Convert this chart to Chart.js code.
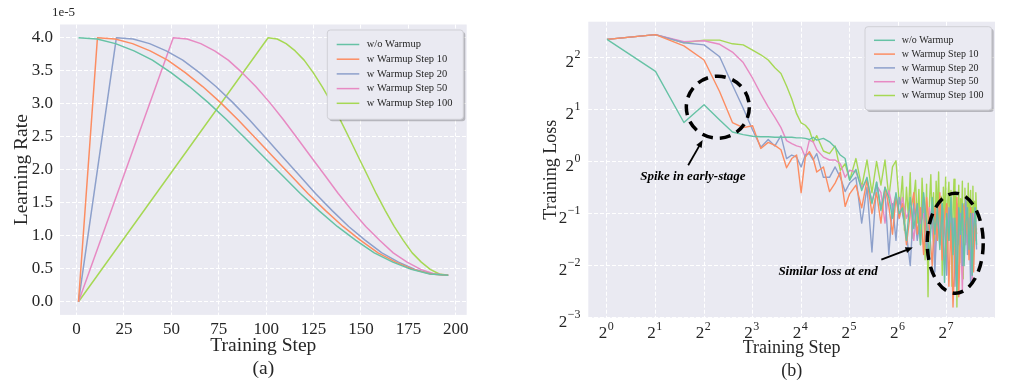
<!DOCTYPE html>
<html>
<head>
<meta charset="utf-8">
<script src="https://cdn.jsdelivr.net/npm/chart.js@4.4.1/dist/chart.umd.min.js"></script>
<style>
  body { margin: 0; background: #fff; }
  #wrap { position: relative; width: 1025px; height: 391px; }
  canvas { position: absolute; top: 0; }
  #lrChart { left: 0; }
  #lossChart { left: 512px; }
</style>
</head>
<body>
<div id="wrap">
  <canvas id="lrChart" width="512" height="391"></canvas>
  <canvas id="lossChart" width="513" height="391"></canvas>
</div>
<script>
var seriesLabels = ['w/o Warmup', 'w Warmup Step 10', 'w Warmup Step 20', 'w Warmup Step 50', 'w Warmup Step 100'];
var seriesColors = ['#66c2a5', '#fc8d62', '#8da0cb', '#e78ac3', '#a6d854'];

// (a) learning rate, in units of 1e-5
var stepsNoWarmup = [1, 10.8, 20.5, 30.3, 40, 49.8, 59.5, 69.3, 79, 88.8, 98.5, 108.3, 118, 127.8, 137.5, 147.3, 157, 166.8, 176.5, 186.3, 196];
var lrNoWarmup = [4.00, 3.98, 3.91, 3.80, 3.66, 3.47, 3.26, 3.02, 2.76, 2.48, 2.20, 1.92, 1.64, 1.38, 1.14, 0.93, 0.74, 0.60, 0.49, 0.42, 0.40];
var stepsWarm10 = [1, 11, 20.3, 29.5, 38.8, 48, 57.3, 66.5, 75.8, 85, 94.3, 103.5, 112.8, 122, 131.3, 140.5, 149.8, 159, 168.3, 177.5, 186.8, 196];
var lrWarm10 = [0, 4.00, 3.98, 3.91, 3.80, 3.66, 3.47, 3.26, 3.02, 2.76, 2.48, 2.20, 1.92, 1.64, 1.38, 1.14, 0.93, 0.74, 0.60, 0.49, 0.42, 0.40];
var stepsWarm20 = [1, 21, 29.8, 38.5, 47.3, 56, 64.8, 73.5, 82.3, 91, 99.8, 108.5, 117.3, 126, 134.8, 143.5, 152.3, 161, 169.8, 178.5, 187.3, 196];
var lrWarm20 = [0, 4.00, 3.98, 3.91, 3.80, 3.66, 3.47, 3.26, 3.02, 2.76, 2.48, 2.20, 1.92, 1.64, 1.38, 1.14, 0.93, 0.74, 0.60, 0.49, 0.42, 0.40];
var stepsWarm50 = [1, 51, 58.3, 65.5, 72.8, 80, 87.3, 94.5, 101.8, 109, 116.3, 123.5, 130.8, 138, 145.3, 152.5, 159.8, 167, 174.3, 181.5, 188.8, 196];
var lrWarm50 = [0, 4.00, 3.98, 3.91, 3.80, 3.66, 3.47, 3.26, 3.02, 2.76, 2.48, 2.20, 1.92, 1.64, 1.38, 1.14, 0.93, 0.74, 0.60, 0.49, 0.42, 0.40];
var stepsWarm100 = [1, 101, 105.8, 110.5, 115.3, 120, 124.8, 129.5, 134.3, 139, 143.8, 148.5, 153.3, 158, 162.8, 167.5, 172.3, 177, 181.8, 186.5, 191.3, 196];
var lrWarm100 = [0, 4.00, 3.98, 3.91, 3.80, 3.66, 3.47, 3.26, 3.02, 2.76, 2.48, 2.20, 1.92, 1.64, 1.38, 1.14, 0.93, 0.74, 0.60, 0.49, 0.42, 0.40];
var stepTicks = [0, 25, 50, 75, 100, 125, 150, 175, 200];
var lrTicks = [0, 0.5, 1, 1.5, 2, 2.5, 3, 3.5, 4];

// (b) training loss
var lossSteps = [1, 2, 3, 4, 5, 6, 7, 8, 9, 10, 11, 12, 13, 14, 15, 16, 17, 18, 19, 20,
  22, 24, 26, 28, 30, 32, 35, 38, 41, 44, 47, 50, 53, 56, 59, 62, 65,
  68, 72, 76, 80, 84, 88, 92, 96, 100, 104, 108, 112, 116, 120, 124, 128, 132, 136, 140,
  144, 148, 152, 156, 160, 164, 168, 172, 176, 180, 184, 188, 192, 196];
var lossNoWarmup = [5.08, 3.32, 1.68, 2.13, 1.74, 1.48, 1.43, 1.40, 1.39, 1.39, 1.38, 1.38, 1.38, 1.38, 1.37, 1.37, 1.36, 1.34, 1.38, 1.33,
  1.36, 1.30, 1.21, 1.09, 1.04, 0.78, 0.90, 0.68, 0.81, 0.57, 0.76, 0.52, 0.71, 0.62, 0.47, 0.66, 0.50,
  0.54, 0.35, 0.62, 0.41, 0.57, 0.33, 0.66, 0.44, 0.27, 0.62, 0.38, 0.54, 0.31, 0.57, 0.20, 0.50, 0.35, 0.62, 0.29,
  0.47, 0.18, 0.54, 0.38, 0.57, 0.25, 0.44, 0.54, 0.31, 0.50, 0.22, 0.41, 0.54, 0.33];
var lossWarm10 = [5.08, 5.41, 4.66, 3.86, 2.53, 1.68, 1.57, 1.61, 1.19, 1.29, 1.24, 1.17, 0.92, 1.04, 1.09, 0.66, 1.06, 1.14, 1.04, 0.87,
  0.93, 0.67, 0.75, 0.87, 0.55, 0.65, 0.73, 0.54, 0.78, 0.50, 0.66, 0.44, 0.71, 0.55, 0.38, 0.62, 0.47,
  0.57, 0.33, 0.50, 0.66, 0.38, 0.54, 0.29, 0.62, 0.41, 0.25, 0.54, 0.35, 0.66, 0.27, 0.47, 0.57, 0.19, 0.44, 0.144,
  0.31, 0.62, 0.165, 0.41, 0.57, 0.54, 0.38, 0.50, 0.27, 0.54, 0.35, 0.23, 0.47, 0.38];
var lossWarm20 = [5.08, 5.41, 4.86, 4.72, 4.03, 2.77, 2.03, 1.52, 1.21, 1.34, 1.23, 1.41, 1.04, 1.09, 1.06, 0.93, 1.09, 1.11, 1.02, 1.11,
  0.81, 0.81, 0.93, 0.81, 0.67, 0.75, 0.81, 0.44, 0.71, 0.30, 0.76, 0.54, 0.66, 0.29, 0.57, 0.35, 0.62,
  0.50, 0.38, 0.25, 0.57, 0.35, 0.47, 0.62, 0.31, 0.44, 0.54, 0.23, 0.50, 0.33, 0.57, 0.41, 0.22, 0.54, 0.35, 0.47,
  0.19, 0.57, 0.33, 0.50, 0.25, 0.41, 0.62, 0.29, 0.47, 0.20, 0.50, 0.35, 0.54, 0.31];
var lossWarm50 = [5.08, 5.41, 4.93, 4.99, 4.76, 4.29, 3.73, 3.03, 2.46, 2.07, 1.80, 1.57, 1.32, 1.27, 1.23, 1.21, 1.06, 1.33, 1.30, 1.17,
  1.06, 1.02, 1.02, 0.97, 0.81, 0.89, 0.87, 0.71, 0.78, 0.59, 0.73, 0.66, 0.44, 0.68, 0.54, 0.64, 0.47,
  0.62, 0.47, 0.54, 0.35, 0.57, 0.44, 0.50, 0.33, 0.54, 0.41, 0.29, 0.57, 0.38, 0.47, 0.25, 0.50, 0.35, 0.54, 0.31,
  0.44, 0.22, 0.50, 0.38, 0.18, 0.47, 0.33, 0.54, 0.29, 0.44, 0.20, 0.50, 0.35, 0.41];
// the step-100 run is read more finely at the end, where it covers the others
var lossStepsWarm100 = [1, 2, 3, 4, 5, 6, 7, 8, 9, 10, 11, 12, 13, 14, 15, 16, 17, 18, 19, 20,
  22, 24, 26, 28, 30, 32, 35, 38, 41, 44, 47, 50, 53, 56, 59, 62, 65,
  66, 68, 70, 72, 74, 76, 78, 80, 82, 84, 86, 88, 90, 92, 94, 96, 98, 100,
  102, 104, 106, 108, 110, 112, 114, 116, 118, 120, 122, 124, 126, 128, 130, 132, 134, 136, 138, 140, 142, 144, 146, 148, 150,
  152, 154, 156, 158, 160, 162, 164, 166, 168, 170, 172, 174, 176, 178, 180, 182, 184, 186, 188, 190, 192, 194, 196];
var lossWarm100 = [5.08, 5.41, 4.86, 5.03, 5.03, 4.79, 4.72, 4.41, 4.14, 3.86, 3.48, 3.23, 2.73, 2.30, 1.89, 1.67, 1.62, 1.52, 1.30, 1.41,
  1.15, 1.11, 1.23, 0.89, 0.97, 0.78, 1.04, 0.71, 1.02, 0.66, 1.00, 0.73, 1.02, 0.62, 0.93, 1.01, 0.57,
  0.57, 0.82, 0.40, 0.71, 0.48, 0.86, 0.36, 0.62, 0.78, 0.44, 0.69, 0.33, 0.80, 0.52, 0.27, 0.74, 0.165, 0.58,
  0.84, 0.41, 0.66, 0.30, 0.77, 0.50, 0.87, 0.38, 0.63, 0.22, 0.71, 0.46, 0.81, 0.28, 0.60, 0.76, 0.35, 0.68, 0.19, 0.55, 0.79, 0.31, 0.64, 0.144, 0.47,
  0.73, 0.26, 0.61, 0.40, 0.77, 0.21, 0.57, 0.70, 0.34, 0.62, 0.44, 0.75, 0.29, 0.58, 0.68, 0.37, 0.54, 0.72, 0.32, 0.59, 0.45, 0.66, 0.50];
var lossXTicks = [1, 2, 4, 8, 16, 32, 64, 128];
var lossXTickExp = ['0', '1', '2', '3', '4', '5', '6', '7'];
var lossYTicks = [0.125, 0.25, 0.5, 1, 2, 4];
var lossYTickExp = ['\u22123', '\u22122', '\u22121', '0', '1', '2'];

// annotations on (b), placed in data coordinates
var noteRings = [
  { step: 4.87, loss: 2.06, rx: 31.5, ry: 31 },
  { step: 144.5, loss: 0.337, rx: 28, ry: 50 }
];
var noteArrows = [
  { from: [3.19, 0.952], to: [3.92, 1.33] },
  { from: [50.3, 0.271], to: [78.9, 0.318] }
];
var noteTexts = [
  { text: 'Spike in early-stage', step: 3.41, loss: 0.814 },
  { text: 'Similar loss at end', step: 23.5, loss: 0.232 }
];

var FONT = "'Liberation Serif', 'Times New Roman', serif";
var INK = '#262626';
Chart.defaults.font.family = FONT;
Chart.defaults.color = INK;

function pts(xs, ys) {
  return xs.map(function (x, i) { return { x: x, y: ys[i] }; });
}
function series(i, xs, ys, w) {
  return { label: seriesLabels[i], data: pts(xs, ys), borderColor: seriesColors[i], backgroundColor: seriesColors[i],
    borderWidth: w, pointRadius: 0, tension: 0, borderJoinStyle: 'round', fill: false };
}

var plotBg = {
  id: 'plotBg',
  beforeDraw: function (chart) {
    var a = chart.chartArea, c = chart.ctx;
    c.save();
    c.fillStyle = '#eaeaf2';
    c.fillRect(a.left, a.top, a.right - a.left, a.bottom - a.top);
    c.restore();
  }
};

var boxLegend = {
  id: 'boxLegend',
  afterDraw: function (chart, args, o) {
    var c = chart.ctx;
    c.save();
    c.fillStyle = 'rgba(0,0,0,0.22)';
    c.beginPath(); c.roundRect(o.x + 2, o.y + 2, o.w, o.h, 3); c.fill();
    c.fillStyle = '#eaeaf2'; c.strokeStyle = '#d0d0d6'; c.lineWidth = 1;
    c.beginPath(); c.roundRect(o.x, o.y, o.w, o.h, 3); c.fill(); c.stroke();
    c.font = o.size + 'px ' + FONT; c.textBaseline = 'middle'; c.textAlign = 'left';
    chart.data.datasets.forEach(function (d, i) {
      var y = o.rowY + i * o.rowGap;
      c.strokeStyle = d.borderColor; c.lineWidth = 1.5;
      c.beginPath(); c.moveTo(o.lineX0, y); c.lineTo(o.lineX1, y); c.stroke();
      c.fillStyle = INK; c.fillText(d.label, o.textX, y);
    });
    c.restore();
  }
};

var sciNote = {
  id: 'sciNote',
  afterDraw: function (chart, args, o) {
    var c = chart.ctx;
    c.save();
    c.font = o.size + 'px ' + FONT; c.fillStyle = INK; c.textBaseline = 'middle'; c.textAlign = 'left';
    c.fillText(o.text, o.x, o.y);
    c.restore();
  }
};

var powTicks = {
  id: 'powTicks',
  afterDraw: function (chart, args, o) {
    var c = chart.ctx, xs = chart.scales.x, ys = chart.scales.y;
    var big = o.big + 'px ' + FONT, small = o.small + 'px ' + FONT;
    c.save();
    c.fillStyle = INK; c.textBaseline = 'alphabetic'; c.textAlign = 'left';
    lossXTicks.forEach(function (v, i) {
      c.font = big; var w1 = c.measureText('2').width;
      c.font = small; var w2 = c.measureText(lossXTickExp[i]).width;
      var x0 = xs.getPixelForValue(v) - (w1 + w2) / 2 - 1;
      c.font = big; c.fillText('2', x0, o.xBase);
      c.font = small; c.fillText(lossXTickExp[i], x0 + w1 + 0.5, o.xBase - 8.3);
    });
    lossYTicks.forEach(function (v, i) {
      var y = ys.getPixelForValue(v);
      c.font = small; var w2 = c.measureText(lossYTickExp[i]).width;
      c.font = big; var w1 = c.measureText('2').width;
      var x0 = o.yRight - w2 - w1 - 0.5;
      c.fillText('2', x0, y + 9.4);
      c.font = small; c.fillText(lossYTickExp[i], x0 + w1 + 0.5, y + 0.5);
    });
    c.restore();
  }
};

var lossNotes = {
  id: 'lossNotes',
  afterDatasetsDraw: function (chart) {
    var c = chart.ctx, xs = chart.scales.x, ys = chart.scales.y;
    function px(s, l) { return [xs.getPixelForValue(s), ys.getPixelForValue(l)]; }
    c.save();
    c.strokeStyle = '#000'; c.fillStyle = '#000';
    c.lineWidth = 3.5; c.setLineDash([11, 7]);
    noteRings.forEach(function (r) {
      var p = px(r.step, r.loss);
      c.beginPath(); c.ellipse(p[0], p[1], r.rx, r.ry, 0, 0, Math.PI * 2); c.stroke();
    });
    c.setLineDash([]); c.lineWidth = 1.8;
    noteArrows.forEach(function (a) {
      var t = px(a.from[0], a.from[1]), h = px(a.to[0], a.to[1]);
      var ang = Math.atan2(h[1] - t[1], h[0] - t[0]), L = 8;
      c.beginPath(); c.moveTo(t[0], t[1]);
      c.lineTo(h[0] - L * 0.8 * Math.cos(ang), h[1] - L * 0.8 * Math.sin(ang)); c.stroke();
      c.beginPath(); c.moveTo(h[0], h[1]);
      c.lineTo(h[0] - L * Math.cos(ang - 0.4), h[1] - L * Math.sin(ang - 0.4));
      c.lineTo(h[0] - L * Math.cos(ang + 0.4), h[1] - L * Math.sin(ang + 0.4));
      c.closePath(); c.fill();
    });
    c.font = 'italic bold 13px ' + FONT; c.textAlign = 'center'; c.textBaseline = 'middle';
    noteTexts.forEach(function (n) {
      var p = px(n.step, n.loss);
      c.fillText(n.text, p[0], p[1]);
    });
    c.restore();
  }
};

var gridOpts = { color: '#ffffff', lineWidth: 1, drawTicks: false };
var borderOpts = { display: false, dash: [4, 2] };

new Chart(document.getElementById('lrChart'), {
  type: 'line',
  data: {
    datasets: [
      series(0, stepsNoWarmup, lrNoWarmup, 1.5),
      series(1, stepsWarm10, lrWarm10, 1.5),
      series(2, stepsWarm20, lrWarm20, 1.5),
      series(3, stepsWarm50, lrWarm50, 1.5),
      series(4, stepsWarm100, lrWarm100, 1.5)
    ]
  },
  options: {
    responsive: false,
    animation: false,
    layout: { padding: { top: 24.5, right: 45.3, left: 0, bottom: 0 } },
    plugins: {
      legend: { display: false },
      tooltip: { enabled: false },
      boxLegend: { x: 327.3, y: 30, w: 136, h: 89.3, rowY: 44.5, rowGap: 14.7, lineX0: 336.7, lineX1: 359.3, textX: 366.7, size: 10.5 },
      sciNote: { text: '1e-5', x: 52, y: 12.5, size: 13 }
    },
    scales: {
      x: {
        type: 'linear', min: -8.75, max: 205.75,
        afterBuildTicks: function (s) { s.ticks = stepTicks.map(function (v) { return { value: v }; }); },
        afterFit: function (s) { s.height = 76.1; },
        grid: gridOpts, border: borderOpts,
        ticks: { padding: 4, color: INK, font: { size: 17 }, maxRotation: 0, autoSkip: false },
        title: { display: true, text: ['Training Step', '(a)'], color: INK, font: { size: 19.5, lineHeight: 1.18 }, padding: { top: 0, bottom: 11 } }
      },
      y: {
        type: 'linear', min: -0.2, max: 4.2,
        afterBuildTicks: function (s) { s.ticks = lrTicks.map(function (v) { return { value: v }; }); },
        afterFit: function (s) { s.width = 60; },
        grid: gridOpts, border: borderOpts,
        ticks: { padding: 7, color: INK, font: { size: 17 }, autoSkip: false, callback: function (v) { return Number(v).toFixed(1); } },
        title: { display: true, text: 'Learning Rate', color: INK, font: { size: 19.5, lineHeight: 1.2 }, padding: { top: 10.3, bottom: 0 } }
      }
    }
  },
  plugins: [plotBg, boxLegend, sciNote]
});

new Chart(document.getElementById('lossChart'), {
  type: 'line',
  data: {
    datasets: [
      series(0, lossSteps, lossNoWarmup, 1.4),
      series(1, lossSteps, lossWarm10, 1.4),
      series(2, lossSteps, lossWarm20, 1.4),
      series(3, lossSteps, lossWarm50, 1.4),
      series(4, lossStepsWarm100, lossWarm100, 1.4)
    ]
  },
  options: {
    responsive: false,
    animation: false,
    layout: { padding: { top: 21.7, right: 30, left: 0, bottom: 0 } },
    plugins: {
      legend: { display: false },
      tooltip: { enabled: false },
      boxLegend: { x: 353, y: 26.7, w: 126.7, h: 83.3, rowY: 40.3, rowGap: 13.8, lineX0: 362, lineX1: 383, textX: 389.7, size: 10 },
      powTicks: { xBase: 338.3, yRight: 68.5, big: 17, small: 12 }
    },
    scales: {
      x: {
        type: 'logarithmic', min: 0.766, max: 255,
        afterBuildTicks: function (s) { s.ticks = lossXTicks.map(function (v) { return { value: v }; }); },
        afterFit: function (s) { s.height = 73.3; },
        grid: gridOpts, border: borderOpts,
        ticks: { display: false },
        title: { display: true, text: ['Training Step', '(b)'], color: INK, font: { size: 18, lineHeight: 1.3 }, padding: { top: 0, bottom: 8 } }
      },
      y: {
        type: 'logarithmic', min: 0.125, max: 6.43,
        afterBuildTicks: function (s) { s.ticks = lossYTicks.map(function (v) { return { value: v }; }); },
        afterFit: function (s) { s.width = 76.3; },
        grid: gridOpts, border: borderOpts,
        ticks: { display: false },
        title: { display: true, text: 'Training Loss', color: INK, font: { size: 18, lineHeight: 1.2 }, padding: { top: 28.9, bottom: 0 } }
      }
    }
  },
  plugins: [plotBg, lossNotes, boxLegend, powTicks]
});
</script>
</body>
</html>
